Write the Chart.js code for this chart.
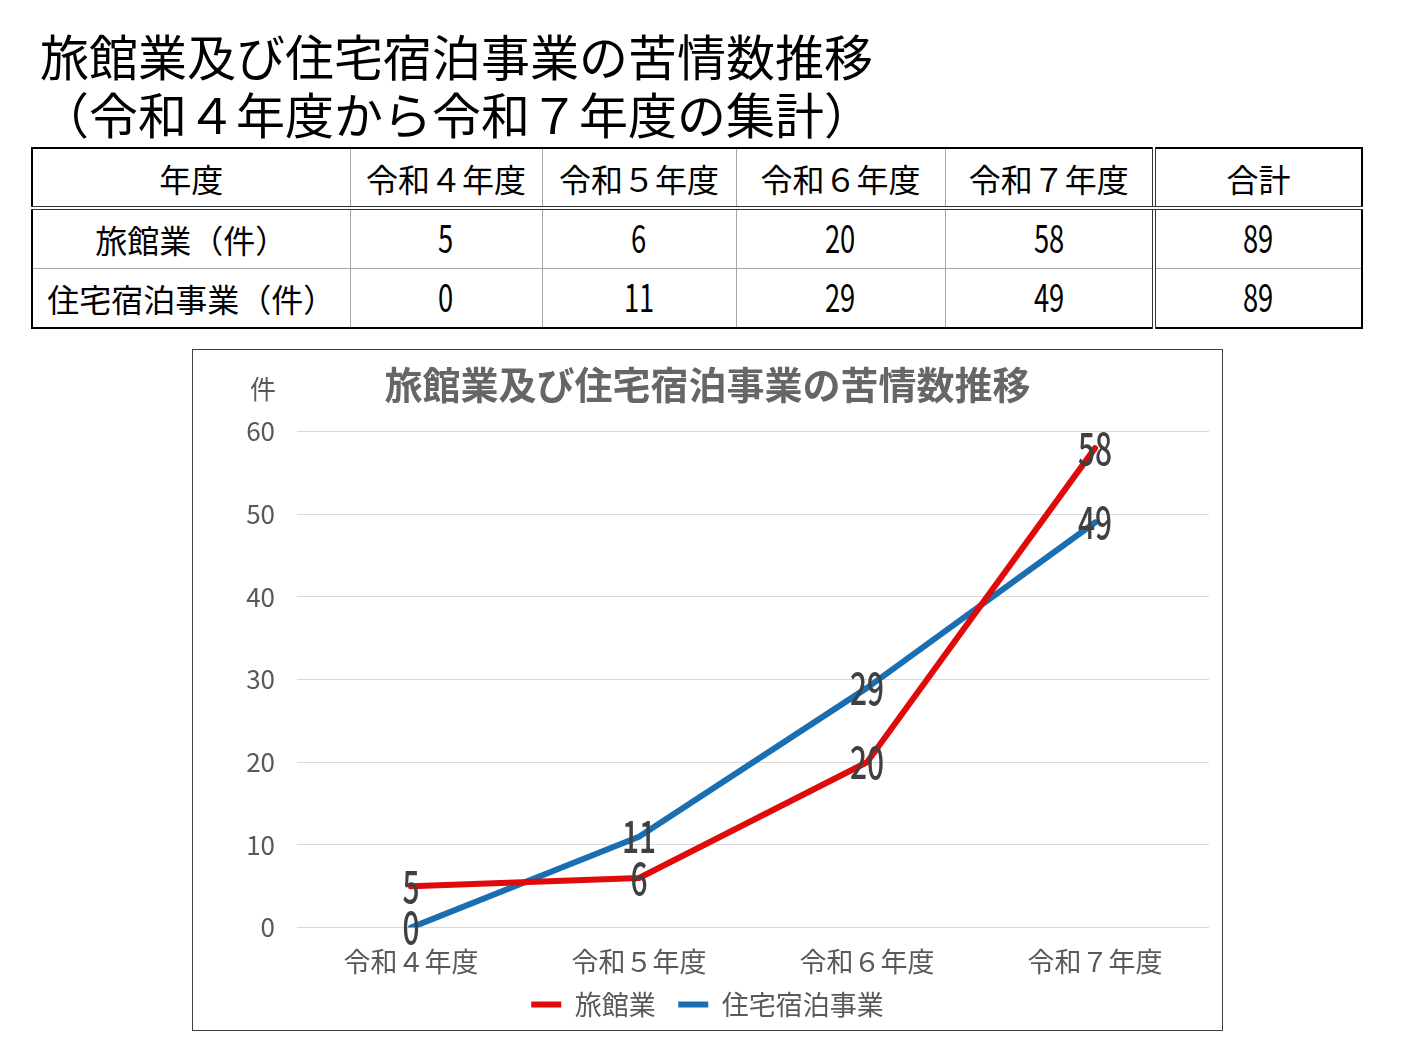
<!DOCTYPE html>
<html lang="ja">
<head>
<meta charset="utf-8">
<script src="https://cdn.jsdelivr.net/npm/chart.js@4"></script>
<style>
  body { margin: 0; width: 1415px; height: 1060px; background: #fff; position: relative; font-family: 'Noto Sans CJK JP', sans-serif; }
  .title { position: absolute; left: 40px; top: 26px; font-size: 49px; line-height: 58px; color: #000; white-space: nowrap; }
  table { position: absolute; left: 31px; top: 147px; width: 1330px; table-layout: fixed; border-collapse: collapse; border: 2px solid #000; }
  td { border: 1px solid #a6a6a6; text-align: center; font-size: 32px; height: 58px; padding: 0; color: #000; white-space: nowrap; }
  tr.head td { border-bottom: 4px double #333; height: 57px; }
  td.total { border-left: 4px double #333; }
  td.num span { display: inline-block; font-size: 38px; line-height: 40px; transform: scaleX(0.72); }
  #box { position: absolute; left: 192px; top: 349px; width: 1031px; height: 682px; border: 1px solid #404040; box-sizing: border-box; }
</style>
</head>
<body>
<div class="title">旅館業及び住宅宿泊事業の苦情数推移<br>（令和４年度から令和７年度の集計）</div>
<table id="tbl"></table>
<div id="box"><canvas id="lineChart"></canvas></div>
<script>
// 年度ごとの苦情件数
const years = ['令和４年度', '令和５年度', '令和６年度', '令和７年度'];
const ryokan = [5, 6, 20, 58];
const minpaku = [0, 11, 29, 49];
const totals = [89, 89];
const seriesNames = ['旅館業', '住宅宿泊事業'];
const yTicks = [0, 10, 20, 30, 40, 50, 60];

// === 表 ===
const colWidths = [318, 192, 194, 209, 209, 208];
const tbl = document.getElementById('tbl');
const headCells = ['年度', ...years, '合計'];
let html = '<colgroup>' + colWidths.map(w => `<col style="width:${w}px">`).join('') + '</colgroup>';
html += '<tr class="head">' + headCells.map((t, i) =>
  `<td${i === 5 ? ' class="total"' : ''}>${t}</td>`).join('') + '</tr>';
[ryokan, minpaku].forEach((row, r) => {
  html += `<tr><td>${seriesNames[r]}（件）</td>` +
    row.map(v => `<td class="num"><span>${v}</span></td>`).join('') +
    `<td class="num total"><span>${totals[r]}</span></td></tr>`;
});
tbl.innerHTML = html;

// === グラフ ===
const JP_FONT = "'Noto Sans CJK JP', sans-serif";

// 点の上に値（縦長の数字）
const valueLabels = {
  id: 'valueLabels',
  afterDatasetsDraw(chart) {
    const ctx = chart.ctx;
    chart.data.datasets.forEach((ds, i) => {
      chart.getDatasetMeta(i).data.forEach((pt, j) => {
        ctx.save();
        ctx.translate(pt.x, pt.y);
        ctx.scale(0.68, 1);
        ctx.font = `500 44px ${JP_FONT}`;
        ctx.fillStyle = '#404040';
        ctx.textAlign = 'center';
        ctx.textBaseline = 'middle';
        ctx.fillText(ds.data[j], 0, 0);
        ctx.restore();
      });
    });
  }
};

// 縦軸の単位「件」
const unitLabel = {
  id: 'unitLabel',
  afterDraw(chart) {
    const ctx = chart.ctx;
    ctx.save();
    ctx.font = `26px ${JP_FONT}`;
    ctx.fillStyle = '#595959';
    ctx.textAlign = 'center';
    ctx.textBaseline = 'middle';
    ctx.fillText('件', chart.scales.y.right - 34, chart.chartArea.top - 42);
    ctx.restore();
  }
};

new Chart(document.getElementById('lineChart'), {
  type: 'line',
  data: {
    labels: years,
    datasets: [
      { label: seriesNames[0], data: ryokan, borderColor: '#e00a0a', backgroundColor: '#e00a0a', borderWidth: 6, borderCapStyle: 'round', borderJoinStyle: 'round', pointRadius: 0, tension: 0 },
      { label: seriesNames[1], data: minpaku, borderColor: '#1a6eb2', backgroundColor: '#1a6eb2', borderWidth: 6, borderCapStyle: 'round', borderJoinStyle: 'round', pointRadius: 0, tension: 0 }
    ]
  },
  options: {
    responsive: true,
    maintainAspectRatio: false,
    animation: false,
    layout: { padding: { left: 13, right: 13, bottom: 2 } },
    scales: {
      x: {
        offset: true,
        grid: { display: false },
        border: { display: false },
        ticks: { color: '#595959', font: { family: JP_FONT, size: 27 }, padding: 10, maxRotation: 0 }
      },
      y: {
        min: 0, max: 60,
        afterBuildTicks: axis => { axis.ticks = yTicks.map(v => ({ value: v })); },
        afterFit: axis => { axis.width = 91; },
        grid: { color: '#d9d9d9', lineWidth: 1, drawTicks: false },
        border: { display: false },
        ticks: { color: '#595959', font: { family: JP_FONT, size: 26 }, padding: 22 }
      }
    },
    plugins: {
      title: {
        display: true,
        text: '旅館業及び住宅宿泊事業の苦情数推移',
        color: '#666666',
        font: { family: JP_FONT, size: 38, weight: 'bold' },
        padding: { top: 12, bottom: 24 }
      },
      legend: {
        position: 'bottom',
        labels: {
          usePointStyle: true,
          pointStyle: 'line',
          pointStyleWidth: 30,
          color: '#595959',
          font: { family: JP_FONT, size: 27 },
          padding: 3,
          generateLabels: chart => {
            const items = Chart.defaults.plugins.legend.labels.generateLabels(chart);
            items.forEach((it, i) => { if (i < items.length - 1) it.text += ' \u2002'; });
            return items;
          }
        }
      },
      tooltip: { enabled: false }
    }
  },
  plugins: [valueLabels, unitLabel]
});
</script>
</body>
</html>
